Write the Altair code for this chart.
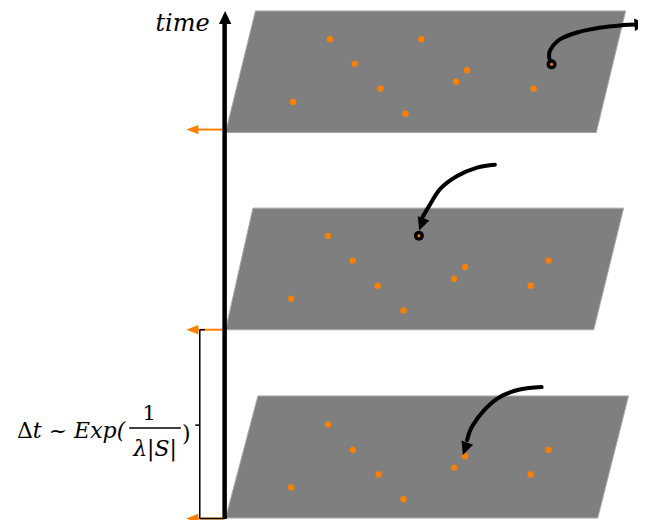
import altair as alt
import pandas as pd

# ---- planes (parallelograms): top edge and bottom edge rows ----
plane_id = ["top", "top", "mid", "mid", "bot", "bot"]
plane_y = [13, 136, 212.5, 335.5, 402.5, 526]
plane_xl = [257, 227, 254.5, 227, 259.5, 227]
plane_xr = [629.5, 600, 627.5, 597.5, 632.5, 601.5]

# ---- orange dots ----
dot_x = [332, 424, 357, 470, 459, 383, 295, 408, 537,
         330, 355, 468, 552, 457, 380, 534, 293, 406,
         330, 355, 468, 552, 457, 381, 534, 293, 406]
dot_y = [41.5, 41.5, 66.5, 73, 84.5, 91.5, 105, 117, 91.5,
         240.5, 265.5, 272, 265.5, 284, 291, 291, 304, 316,
         431.5, 457, 463.5, 457, 475, 482, 482, 495, 507]

# circled dots (selected events)
sel_x = [555, 421.5]
sel_y = [67, 240.5]

# ---- curved arrows (control points) ----
curve_id = ["a"] * 7 + ["b"] * 6 + ["c"] * 6
curve_x = [553, 553.5, 563, 580, 603, 627, 640,
           498, 480, 460, 443, 432, 425,
           545, 523, 503, 487, 475, 470]
curve_y = [62, 53, 42, 35, 30, 27.3, 26.7,
           168.5, 171.5, 180, 193, 210, 222,
           393.5, 396, 403.5, 417, 433.5, 447]

head_x = [645, 424, 468, 226.5]
head_y = [26.5, 229, 456, 19.5]
head_angle = [176, 290, 290, 90]

# ---- time axis and orange markers ----
axis_x = [226]
axis_y0 = [22]
axis_y1 = [527]
mark_y = [133, 335.5, 526.5]
mark_x0 = [197]
mark_x1 = [226]
mark_tip = [193.5]

# ---- bracket ----
br_x0 = [201, 201, 201, 196.5]
br_x1 = [201, 206, 226, 201]
br_y0 = [335.5, 335.5, 526.5, 432]
br_y1 = [526.5, 335.5, 526.5, 432]

# ---- texts ----
txt = ["time", "Δ", "t ~ Exp(", "1", "λ|S|", ")"]
txt_x = [211, 33, 126, 150, 156, 183]
txt_y = [33, 445, 445, 427, 463, 448]
txt_align = ["right", "right", "right", "center", "center", "left"]
txt_size = [24, 22, 22, 21, 22, 22]
txt_style = ["italic", "normal", "italic", "normal", "italic", "normal"]
frac_x = [130, 182]
frac_y = [435]

ORANGE = "#ff8000"
XS = alt.Scale(domain=[8, 642], nice=False, zero=False)
YS = alt.Scale(domain=[10, 528], nice=False, zero=False, reverse=True)


def X(f):
    return alt.X(f, type="quantitative", scale=XS, axis=None)


def Y(f):
    return alt.Y(f, type="quantitative", scale=YS, axis=None)


layers = []

planes = pd.DataFrame({"plane": plane_id, "y": plane_y, "xl": plane_xl, "xr": plane_xr})
layers.append(
    alt.Chart(planes).mark_area(orient="horizontal", color="#7f7f7f", stroke="#a8a8a8", strokeWidth=1)
    .encode(y=Y("y"), x=X("xl"), x2="xr", detail="plane:N")
)

om = pd.DataFrame({"y": mark_y, "x0": mark_x0 * 3, "x1": mark_x1 * 3, "tip": mark_tip * 3})
layers.append(
    alt.Chart(om).mark_rule(color=ORANGE, strokeWidth=2).encode(x=X("x0"), x2="x1", y=Y("y"))
)
layers.append(
    alt.Chart(om).mark_point(shape="M1,-0.78L-1,0L1,0.78Z", filled=True, color=ORANGE, opacity=1, size=144)
    .encode(x=X("tip"), y=Y("y"))
)

br = pd.DataFrame({"x0": br_x0, "x1": br_x1, "y0": br_y0, "y1": br_y1})
layers.append(
    alt.Chart(br).mark_rule(color="black", strokeWidth=1.5).encode(x=X("x0"), x2="x1", y=Y("y0"), y2="y1")
)

ax = pd.DataFrame({"x": axis_x, "y0": axis_y0, "y1": axis_y1})
layers.append(
    alt.Chart(ax).mark_rule(color="black", strokeWidth=4.5).encode(x=X("x"), y=Y("y0"), y2="y1")
)

dots = pd.DataFrame({"x": dot_x, "y": dot_y})
layers.append(
    alt.Chart(dots).mark_circle(color=ORANGE, opacity=1, size=40).encode(x=X("x"), y=Y("y"))
)

sel = pd.DataFrame({"x": sel_x, "y": sel_y})
layers.append(
    alt.Chart(sel).mark_circle(color="black", opacity=1, size=100).encode(x=X("x"), y=Y("y"))
)
layers.append(
    alt.Chart(sel).mark_circle(color=ORANGE, opacity=1, size=9).encode(x=X("x"), y=Y("y"))
)

curves = pd.DataFrame({"c": curve_id, "x": curve_x, "y": curve_y, "i": list(range(len(curve_x)))})
layers.append(
    alt.Chart(curves).mark_line(color="black", strokeWidth=4, interpolate="cardinal", strokeCap="round")
    .encode(x=X("x"), y=Y("y"), detail="c:N", order="i:Q")
)

heads = pd.DataFrame({"x": head_x, "y": head_y, "a": head_angle})
layers.append(
    alt.Chart(heads).mark_point(shape="M1,-0.95L-1,0L1,0.95Z", filled=True, color="black", opacity=1, size=169)
    .encode(x=X("x"), y=Y("y"), angle=alt.Angle("a:Q", scale=None))
)

fr = pd.DataFrame({"x0": [frac_x[0]], "x1": [frac_x[1]], "y": frac_y})
layers.append(
    alt.Chart(fr).mark_rule(color="black", strokeWidth=1.5).encode(x=X("x0"), x2="x1", y=Y("y"))
)

for t, tx, ty, al, fs, st in zip(txt, txt_x, txt_y, txt_align, txt_size, txt_style):
    d = pd.DataFrame({"t": [t], "x": [tx], "y": [ty]})
    layers.append(
        alt.Chart(d).mark_text(font="DejaVu Serif", fontSize=fs, fontStyle=st, align=al,
                               baseline="alphabetic", color="black")
        .encode(x=X("x"), y=Y("y"), text="t:N")
    )

chart = (
    alt.layer(*layers)
    .properties(width=630, height=512, padding=0, autosize="none")
    .configure_view(stroke=None)
)

chart.save("out.html", embed_options={"renderer": "svg", "actions": False})
